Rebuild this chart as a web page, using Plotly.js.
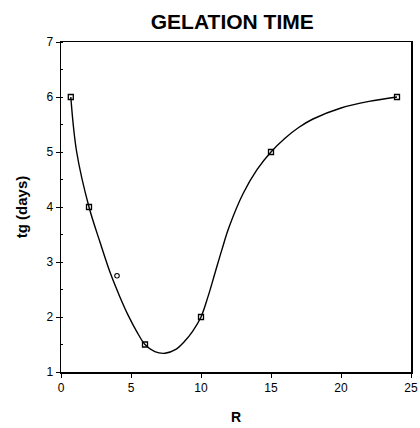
<!DOCTYPE html>
<html>
<head>
<meta charset="utf-8">
<script src="https://cdn.plot.ly/plotly-3.0.1.min.js"></script>
<style>html,body{margin:0;padding:0;background:#fff;}#chart{width:420px;height:428px;}</style>
</head>
<body>
<div id="chart"></div>
<script>
// Measured points (squares)
const pointsR = [0.7, 2, 6, 10, 15, 24];
const pointsTg = [6, 4, 1.5, 2, 5, 6];
// Outlier point (open circle)
const outlierR = [4];
const outlierTg = [2.75];
// Fitted curve
const curveR = [0.7, 1.12, 2, 2.8, 3.55, 4.2, 4.8, 5.4, 6, 6.7, 7.43, 8.2, 8.8, 9.4, 10, 10.5, 11, 11.5, 12, 13, 14, 15, 16, 17, 18, 20, 22, 24];
const curveTg = [6, 5.0, 4, 3.35, 2.78, 2.37, 2.03, 1.74, 1.5, 1.37, 1.34, 1.41, 1.55, 1.74, 2, 2.37, 2.8, 3.23, 3.63, 4.24, 4.68, 5, 5.25, 5.45, 5.6, 5.8, 5.92, 6];
const xTicks = [0, 5, 10, 15, 20, 25];
const yTicks = [1, 2, 3, 4, 5, 6, 7];

const traces = [
  {x: curveR, y: curveTg, mode: 'lines', line: {color: '#000', width: 1.4, shape: 'spline', smoothing: 1}, hoverinfo: 'skip'},
  {x: pointsR, y: pointsTg, mode: 'markers', marker: {symbol: 'square-open', size: 5, color: '#000', line: {width: 1.3, color: '#000'}}},
  {x: outlierR, y: outlierTg, mode: 'markers', marker: {symbol: 'circle-open', size: 4.5, color: '#000', line: {width: 1.1, color: '#000'}}}
];

const fontFam = 'Liberation Sans, Arial, sans-serif';
const layout = {
  width: 420, height: 428,
  margin: {l: 61, r: 9, t: 42, b: 56},
  showlegend: false,
  paper_bgcolor: '#fff', plot_bgcolor: '#fff',
  title: {text: '<b>GELATION TIME</b>', font: {family: fontFam, size: 21, color: '#000'}, x: 0.553, xanchor: 'center', y: 0.95, yanchor: 'middle'},
  xaxis: {
    range: [0, 25], tickvals: xTicks, ticktext: xTicks.map(String),
    showgrid: false, zeroline: false, showline: true, mirror: true, linecolor: '#000', linewidth: 1.5,
    ticks: 'outside', ticklen: 4, tickcolor: '#000',
    tickfont: {family: fontFam, size: 12, color: '#000'},
    title: {text: '<b>R</b>', font: {family: fontFam, size: 14, color: '#000'}, standoff: 18}
  },
  yaxis: {
    range: [1, 7], tickvals: yTicks, ticktext: yTicks.map(String),
    showgrid: false, zeroline: false, showline: true, mirror: true, linecolor: '#000', linewidth: 1.5,
    ticks: 'outside', ticklen: 4, tickcolor: '#000',
    minor: {dtick: 0.5, ticks: 'inside', ticklen: 2, tickcolor: '#000'},
    tickfont: {family: fontFam, size: 12, color: '#000'},
    title: {text: '<b>tg (days)</b>', font: {family: fontFam, size: 15, color: '#000'}, standoff: 15}
  }
};
Plotly.newPlot('chart', traces, layout, {displayModeBar: false, staticPlot: true});
</script>
</body>
</html>
